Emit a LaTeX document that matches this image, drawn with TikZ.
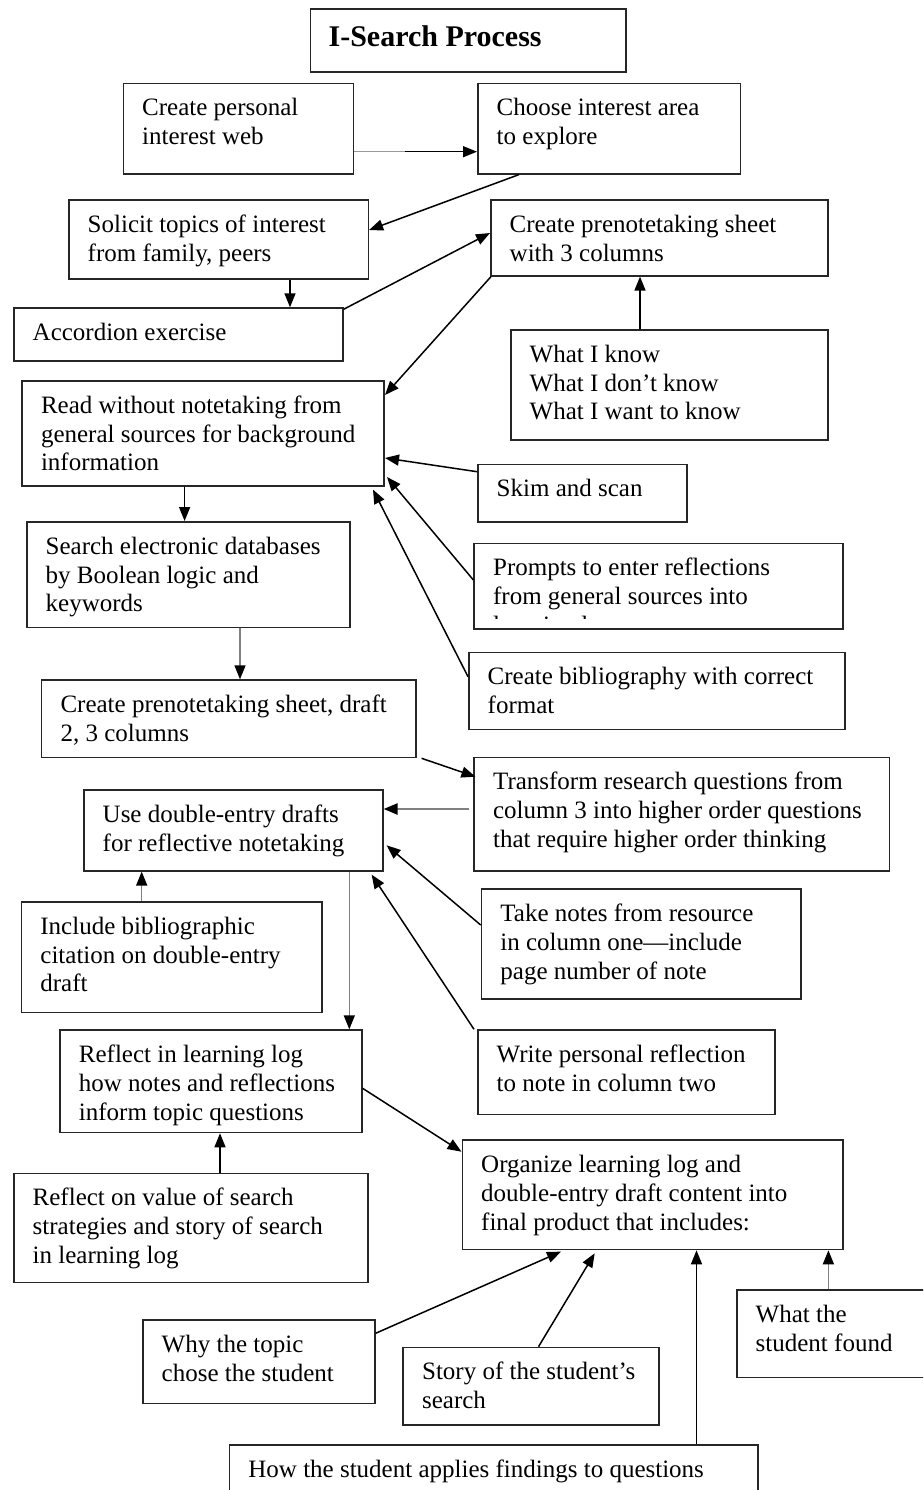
\documentclass[tikz,border=0pt]{standalone}
\usepackage{fontspec}
\setmainfont{Liberation Serif}
\usetikzlibrary{arrows.meta,calc}

\tikzset{
  stepbox/.style={draw=black!85, line width=1.6pt, fill=none, inner sep=0pt,
    anchor=north west},
  boxtext/.style={anchor=north west, inner sep=0pt, align=left,
    font=\fontsize{25pt}{28.8pt}\selectfont},
  arr/.style={line width=1.5pt, draw=black,
    -{Triangle[length=14pt,width=11pt,color=black]}},
  softarr/.style={arr, draw=black!50},
  thickarr/.style={arr, draw=black!50, line width=2.4pt},
}

% A framed step: name, left, top, right, bottom, text (first baseline 33 below the top)
\newcommand\stepnode[6]{%
  \node[stepbox, minimum width={#4-#2}, minimum height={#5-#3}] (#1) at (#2,#3) {};
  \node[boxtext] (#1-t) at ($(#1.north west)+(19.5,0)$) {\rule{0pt}{33pt}#6};
}

\begin{document}
\begin{tikzpicture}[x=1pt, y=-1pt]
\useasboundingbox (0,0) rectangle (923,1490);
\clip (0,0) rectangle (923,1490);

% Title
\node[stepbox, minimum width=315.5, minimum height=63] (title) at (309.5,8) {};
\node[anchor=base west, inner sep=0pt, font=\fontsize{30pt}{36pt}\selectfont\bfseries]
  (title-t) at (328.4,46.7) {I-Search Process};

% Steps
\stepnode{web}{122.5}{82.7}{352.7}{173}{Create personal\\interest web}
\stepnode{choose}{477}{82.7}{739.6}{173}{Choose interest area\\to explore}
\stepnode{solicit}{68}{199.3}{367.5}{278}{Solicit topics of interest\\from family, peers}
\stepnode{pre}{490}{199.3}{827}{275}{Create prenotetaking sheet\\with 3 columns}
\stepnode{accordion}{13}{307.3}{342}{360.3}{Accordion exercise}
\stepnode{know}{510}{329}{827}{439.3}{What I know\\What I don’t know\\What I want to know}
\stepnode{read}{21.3}{380}{383.4}{485}{Read without notetaking from\\general sources for background\\information}
\stepnode{skim}{477}{463.7}{686.4}{521}{Skim and scan}
\node[stepbox, minimum width={842-473.4}, minimum height={628.3-542.7}] (prompts) at (473.4,542.7) {};
\begin{scope}
  \clip (473.4,542.7) rectangle (842,618.5);
  \node[boxtext] (prompts-t) at ($(prompts.north west)+(19.5,0)$)
    {\rule{0pt}{33pt}Prompts to enter reflections\\from general sources into\\learning log};
\end{scope}
\stepnode{biblio}{468}{651.7}{844.4}{728.7}{Create bibliography with correct\\format}
\stepnode{search}{26}{521}{349}{626.7}{Search electronic databases\\by Boolean logic and\\keywords}
\stepnode{draft}{40.8}{679.3}{415.4}{756.7}{Create prenotetaking sheet, draft\\2, 3 columns}
\stepnode{transform}{473.4}{756.7}{888.8}{870}{Transform research questions from\\column 3 into higher order questions\\that require higher order thinking}
\stepnode{use}{83}{789.3}{382}{870}{Use double-entry drafts\\for reflective notetaking}
\stepnode{include}{20.7}{901}{321}{1011.7}{Include bibliographic\\citation on double-entry\\draft}
\stepnode{notes}{480.7}{888.3}{800}{998.3}{Take notes from resource\\in column one—include\\page number of note}
\stepnode{write}{477}{1029.3}{774}{1113.7}{Write personal reflection\\to note in column two}
\stepnode{reflect}{59.2}{1029.3}{361}{1131.7}{Reflect in learning log\\how notes and reflections\\inform topic questions}
\stepnode{value}{13}{1172.7}{366.9}{1281.7}{Reflect on value of search\\strategies and story of search\\in learning log}
\stepnode{organize}{461.5}{1139.3}{842}{1248.7}{Organize learning log and\\double-entry draft content into\\final product that includes:}
\stepnode{why}{142}{1319}{374}{1402.7}{Why the topic\\chose the student}
\stepnode{story}{402.4}{1346.7}{658}{1424.3}{Story of the student’s\\search}
\stepnode{how}{228.7}{1444}{757}{1510}{How the student applies findings to questions}
\stepnode{found}{736}{1289}{940}{1376.7}{What the\\student found}

% Connectors
\draw[arr] ($(web.north east)+(0,69)$) -- ($(choose.north west)+(0,69)$);
\draw[draw=black!40, line width=1.5pt] ($(web.north east)+(0,69)$) -- ++(51,0);
\draw[arr] ($(choose.south west)+(42,0)$) -- ($(solicit.north east)+(0,30.7)$);
\draw[arr] ($(solicit.south west)+(222,0)$) -- ($(accordion.north west)+(277,0)$);
\draw[arr] ($(accordion.north east)+(0,2)$) -- ($(pre.north west)+(0,33.7)$);
\draw[arr] ($(pre.south west)+(1,0)$) -- ($(read.north east)+(0,15)$);
\draw[arr] ($(know.north west)+(130,0)$) -- ($(pre.south west)+(150,0)$);
\draw[arr] ($(skim.north west)+(0,8)$) -- ($(read.north east)+(0,78)$);
\draw[arr] ($(prompts.north west)+(0,37.3)$) -- ($(read.north east)+(2,97)$);
\draw[arr] ($(biblio.north west)+(0,25)$) -- ($(read.south east)+(-12,3)$);
\draw[arr] ($(read.south west)+(163.3,0)$) -- ($(search.north west)+(158.6,0)$);
\draw[softarr] ($(search.south west)+(214,0)$) -- ($(draft.north west)+(199.2,0)$);
\draw[arr] ($(draft.south east)+(4.6,0)$) -- ($(transform.north west)+(2,20)$);
\draw[thickarr] ($(transform.north west)+(-4,52.3)$) -- ($(use.north east)+(0,19.7)$);
\draw[arr] ($(notes.north west)+(0,36.7)$) -- ($(use.north east)+(3,56)$);
\draw[arr] ($(write.north west)+(-3,0)$) -- ($(use.south east)+(-12,3)$);
\draw[softarr] ($(use.south west)+(266.3,0)$) -- ($(reflect.north west)+(290.1,0)$);
\draw[softarr] ($(include.north west)+(121,0)$) -- ($(use.south west)+(58.7,0)$);
\draw[arr] ($(reflect.north east)+(0,59)$) -- ($(organize.north west)+(0,12.4)$);
\draw[arr] ($(value.north west)+(207,0)$) -- ($(reflect.south west)+(160.8,0)$);
\draw[arr] ($(why.north east)+(0,14.3)$) -- ($(organize.south west)+(99.5,1.3)$);
\draw[arr] ($(story.north west)+(136.1,0)$) -- ($(organize.south west)+(133.2,3)$);
\draw[arr] ($(how.north west)+(467.8,0)$) -- ($(organize.south west)+(235,0)$);
\draw[softarr] ($(found.north west)+(92.4,0)$) -- ($(organize.south west)+(366.9,0)$);
\end{tikzpicture}
\end{document}
